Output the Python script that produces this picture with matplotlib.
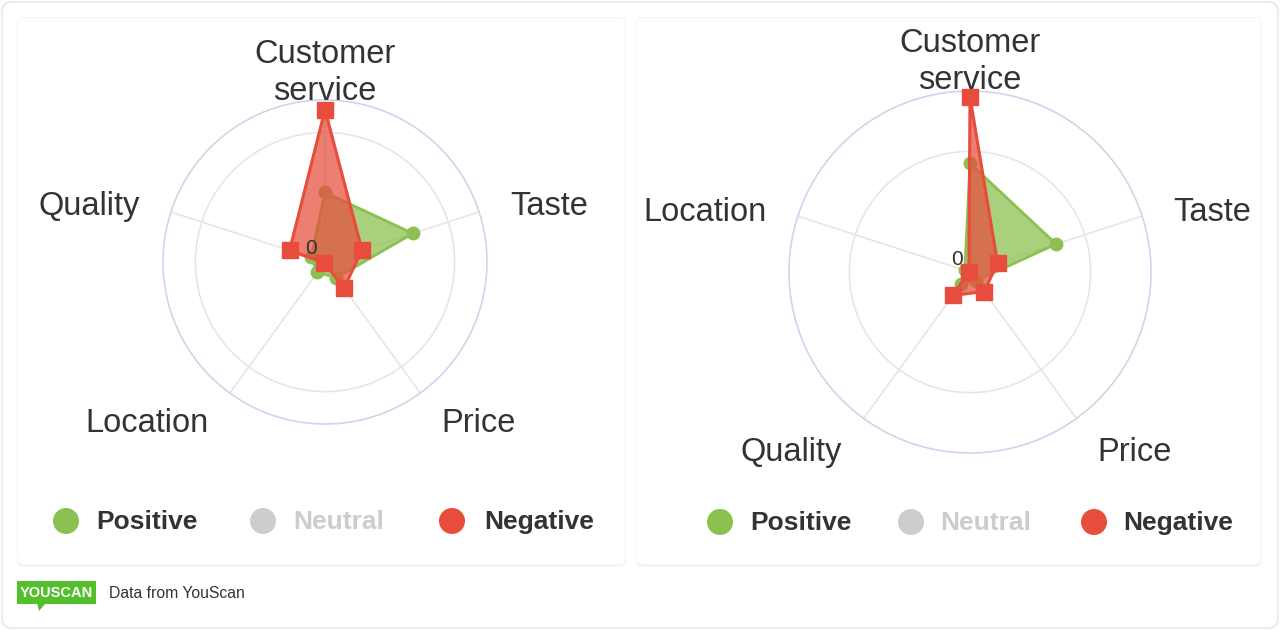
import numpy as np
import matplotlib
matplotlib.use("Agg")
import matplotlib.pyplot as plt
from matplotlib.patches import FancyBboxPatch, Circle, Rectangle, Polygon

plt.rcParams['font.family'] = ['Liberation Sans', 'DejaVu Sans']

# left chart
left_categories = ['Customer\nservice', 'Taste', 'Price', 'Location', 'Quality']
left_positive = [21.5, 28.5, 6, 4, 4.5]
left_negative = [47, 12, 10, 0.3, 11.5]
left_max = 50
left_grid = 40

# right chart
right_categories = ['Customer\nservice', 'Taste', 'Price', 'Quality', 'Location']
right_positive = [18, 15, 1.8, 2.4, 0.9]
right_negative = [29, 4.8, 4, 4.8, 0.2]
right_max = 30
right_grid = 20

legend_labels = ['Positive', 'Neutral', 'Negative']

GREEN = '#8cc152'
RED = '#e74c3c'
GRAY = '#cccccc'
TEXT = '#333333'

W, H = 1280, 630
fig = plt.figure(figsize=(W / 100, H / 100), dpi=100)
fig.patch.set_facecolor('white')

# background layer in pixel units
bg = fig.add_axes([0, 0, 1, 1], zorder=0)
bg.set_xlim(0, W)
bg.set_ylim(H, 0)
bg.axis('off')

bg.add_patch(FancyBboxPatch((2, 2), W - 4, H - 4, boxstyle='round,pad=0,rounding_size=10',
                            facecolor='white', edgecolor='#e4e4e4', lw=1))
for x0, x1 in [(18, 625), (637, 1261)]:
    bg.add_patch(FancyBboxPatch((x0 - 1, 17), x1 - x0 + 2, 550, boxstyle='round,pad=0,rounding_size=6',
                                facecolor='#f5f5f5', edgecolor='none'))
    bg.add_patch(FancyBboxPatch((x0, 18), x1 - x0, 546, boxstyle='round,pad=0,rounding_size=6',
                                facecolor='white', edgecolor='none'))


def radar(cx, cy, R, cats, pos, neg, rmax, grid, rtext, lab_drop, top_drop, zero_off):
    ax = fig.add_axes([(cx - R) / W, (H - cy - R) / H, 2 * R / W, 2 * R / H],
                      projection='polar', zorder=2)
    ax.set_facecolor('none')
    ax.set_theta_offset(np.pi / 2)
    ax.set_theta_direction(-1)
    n = len(cats)
    theta = np.linspace(0, 2 * np.pi, n, endpoint=False)
    ax.set_ylim(0, rmax)
    ax.set_yticks([grid])
    ax.set_yticklabels([])
    ax.set_xticks(theta)
    ax.set_xticklabels([])
    ax.grid(True, color='#e6e6e6', lw=1.2)
    ax.spines['polar'].set_color('#ccd6eb')
    ax.spines['polar'].set_linewidth(1.2)
    ax.tick_params(length=0)

    tc = np.append(theta, theta[0])
    p = np.append(pos, pos[0])
    q = np.append(neg, neg[0])
    ax.fill(tc, p, color=GREEN, alpha=0.75, lw=0, zorder=3)
    ax.plot(tc, p, color=GREEN, lw=2, zorder=4)
    ax.plot(theta, pos, 'o', color=GREEN, ms=9, zorder=5, clip_on=False)
    ax.fill(tc, q, color=RED, alpha=0.72, lw=0, zorder=6)
    ax.plot(tc, q, color=RED, lw=2.2, zorder=7)
    ax.plot(theta, neg, 's', color=RED, ms=11, zorder=8, clip_on=False)

    ax.annotate('0', (0, 0), xytext=zero_off, textcoords='offset points',
                ha='center', va='center', fontsize=15, color=TEXT, zorder=10)

    for t, lab in zip(theta, cats):
        s = np.sin(t)
        if abs(s) < 0.1:
            ax.annotate(lab, (t, 0.985 * rmax), xytext=(0, -top_drop), textcoords='offset points',
                        ha='center', va='bottom', fontsize=23.5, color=TEXT,
                        linespacing=1.27, annotation_clip=False)
        else:
            upper = np.cos(t) > 0
            r = rtext[0] if upper else rtext[1]
            drop = lab_drop[0] if upper else lab_drop[1]
            ax.annotate(lab, (t, r * rmax), xytext=(0, -drop), textcoords='offset points',
                        ha='left' if s > 0 else 'right', va='center', fontsize=23.5,
                        color=TEXT, annotation_clip=False)
    return ax


radar(325, 262, 162, left_categories, left_positive, left_negative,
      left_max, left_grid, (1.2, 1.22), (3.5, 1.5), 3.5, (-10, 10))
radar(970, 272, 181, right_categories, right_positive, right_negative,
      right_max, right_grid, (1.18, 1.2), (4.5, 3.5), 2, (-9, 9))

# legends
legend_rows = [
    (521, [(66, 96), (263, 293), (452, 484)]),
    (522, [(720, 750), (911, 940), (1094, 1123)]),
]
legend_colors = [GREEN, GRAY, RED]
legend_text = [TEXT, GRAY, TEXT]
for y, items in legend_rows:
    for (mx, tx), lab, mc, tcol in zip(items, legend_labels, legend_colors, legend_text):
        bg.add_patch(Circle((mx, y), 13, facecolor=mc, edgecolor='none'))
        bg.text(tx, y + 1, lab, ha='left', va='center', fontsize=19,
                fontweight='bold', color=tcol)

# footer
logo_green = '#52bf2b'
bg.add_patch(Rectangle((17, 581), 79, 23, facecolor=logo_green, edgecolor='none'))
bg.add_patch(Polygon([(37, 603), (46, 603), (39, 611)], closed=True,
                     facecolor=logo_green, edgecolor='none'))
bg.text(56.5, 593, 'YOUSCAN', ha='center', va='center', fontsize=10.5,
        fontweight='bold', color='white')
bg.text(109, 593, 'Data from YouScan', ha='left', va='center', fontsize=11.3, color=TEXT)

fig.savefig('out.png', dpi=100)
